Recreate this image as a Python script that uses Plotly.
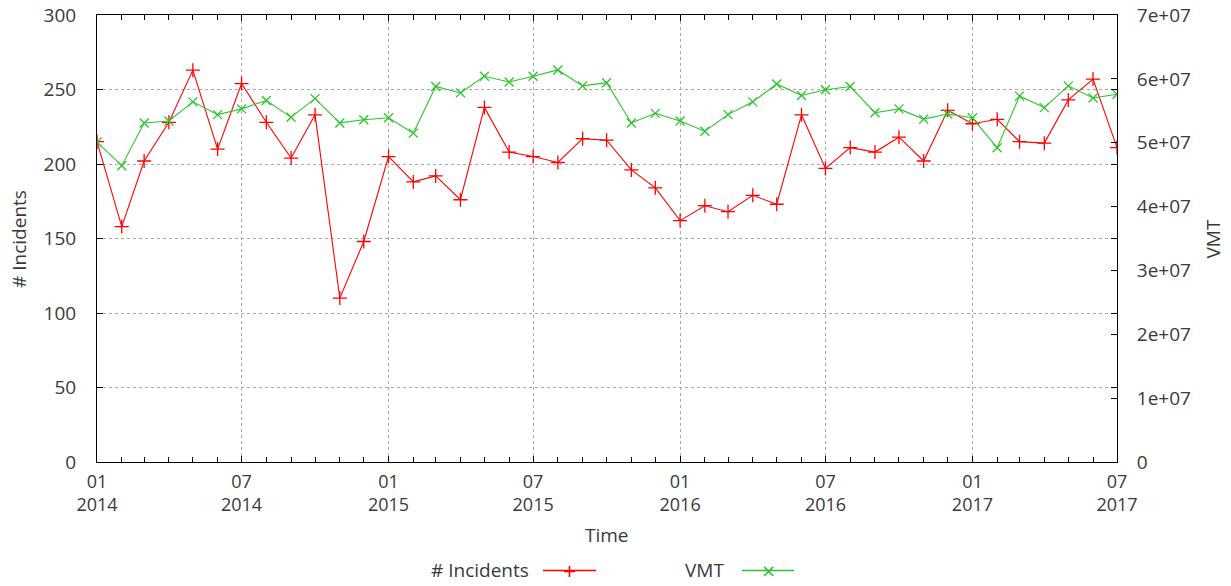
import plotly.graph_objects as go

# Monthly observations, Jan 2014 - Jul 2017
months = [
    "2014-01-01", "2014-02-01", "2014-03-01", "2014-04-01", "2014-05-01", "2014-06-01",
    "2014-07-01", "2014-08-01", "2014-09-01", "2014-10-01", "2014-11-01", "2014-12-01",
    "2015-01-01", "2015-02-01", "2015-03-01", "2015-04-01", "2015-05-01", "2015-06-01",
    "2015-07-01", "2015-08-01", "2015-09-01", "2015-10-01", "2015-11-01", "2015-12-01",
    "2016-01-01", "2016-02-01", "2016-03-01", "2016-04-01", "2016-05-01", "2016-06-01",
    "2016-07-01", "2016-08-01", "2016-09-01", "2016-10-01", "2016-11-01", "2016-12-01",
    "2017-01-01", "2017-02-01", "2017-03-01", "2017-04-01", "2017-05-01", "2017-06-01",
    "2017-07-01",
]

incidents = [
    215, 158, 202, 228, 263, 210, 254, 228, 204, 233, 110, 148,
    205, 188, 192, 176, 238, 208, 205, 201, 217, 216, 196, 184,
    162, 172, 168, 179, 173, 233, 197, 211, 208, 218, 202, 236,
    227, 230, 215, 214, 243, 257, 211,
]

vmt = [
    5.01e7, 4.64e7, 5.31e7, 5.34e7, 5.64e7, 5.44e7, 5.53e7, 5.66e7, 5.40e7, 5.69e7, 5.31e7, 5.36e7,
    5.39e7, 5.15e7, 5.88e7, 5.78e7, 6.04e7, 5.95e7, 6.04e7, 6.14e7, 5.89e7, 5.94e7, 5.31e7, 5.46e7,
    5.34e7, 5.18e7, 5.44e7, 5.64e7, 5.92e7, 5.74e7, 5.83e7, 5.88e7, 5.47e7, 5.53e7, 5.37e7, 5.45e7,
    5.39e7, 4.92e7, 5.73e7, 5.55e7, 5.89e7, 5.70e7, 5.76e7,
]

y1_ticks = [0, 50, 100, 150, 200, 250, 300]
y2_ticks = [0, 1e7, 2e7, 3e7, 4e7, 5e7, 6e7, 7e7]
y2_labels = ["0", "1e+07", "2e+07", "3e+07", "4e+07", "5e+07", "6e+07", "7e+07"]

X_RANGE = ["2014-01-01", "2017-07-01"]

RED = "#ff0000"
GREEN = "#2cc42c"
TEXT = "#3a3a3a"
FONT = "Open Sans"
FS = 19
GRID = "#a8a8a8"

fig = go.Figure()

fig.add_trace(go.Scatter(
    x=months, y=incidents, name="# Incidents", mode="lines+markers",
    line=dict(color=RED, width=1.1),
    marker=dict(symbol="cross-thin", size=10, line=dict(color=RED, width=1.3)),
    yaxis="y", showlegend=False, hoverinfo="skip",
))
fig.add_trace(go.Scatter(
    x=months, y=vmt, name="VMT", mode="lines+markers",
    line=dict(color=GREEN, width=1.1),
    marker=dict(symbol="x-thin", size=9, line=dict(color=GREEN, width=1.3)),
    yaxis="y2", showlegend=False, hoverinfo="skip",
))

axis_common = dict(
    showline=True, linecolor="black", linewidth=1,
    ticks="inside", tickcolor="black", tickwidth=1,
    tickfont=dict(family=FONT, size=FS, color=TEXT),
    zeroline=False, automargin=False,
)

fig.update_layout(
    width=1231, height=586,
    margin=dict(l=97, r=114, t=15, b=124, autoexpand=False),
    paper_bgcolor="white", plot_bgcolor="white",
    font=dict(family=FONT, size=FS, color=TEXT),
    xaxis=dict(
        **{**axis_common, "tickfont": dict(family=FONT, size=18, color=TEXT)},
        type="date", range=X_RANGE,
        tick0="2014-01-01", dtick="M6", tickformat="%m<br>%Y",
        ticklen=6, mirror="ticks",
        showgrid=True, gridcolor=GRID, griddash="dot", gridwidth=1,
        minor=dict(dtick="M1", ticks="inside", ticklen=5, tickcolor="black", showgrid=False),
        ticklabelstandoff=3,
    ),
    yaxis=dict(
        **axis_common,
        range=[0, 300], tickvals=y1_ticks, ticklen=6, mirror="ticks",
        showgrid=True, gridcolor=GRID, griddash="dot", gridwidth=1,
        ticklabelstandoff=16,
    ),
    yaxis2=dict(
        **axis_common,
        overlaying="y", side="right",
        range=[0, 7e7], tickvals=y2_ticks, ticktext=y2_labels, ticklen=6,
        showgrid=False, ticklabelstandoff=15,
    ),
)

# Axis titles
fig.add_annotation(text="# Incidents", xref="paper", yref="paper", x=-0.077, y=0.5,
                   textangle=-90, showarrow=False, xanchor="center", yanchor="middle",
                   font=dict(family=FONT, size=FS, color=TEXT))
fig.add_annotation(text="VMT", xref="paper", yref="paper", x=1.0941, y=0.5,
                   textangle=-90, showarrow=False, xanchor="center", yanchor="middle",
                   font=dict(family=FONT, size=FS, color=TEXT))
fig.add_annotation(text="Time", xref="paper", yref="paper", x=0.5, y=-0.163,
                   showarrow=False, xanchor="center", yanchor="middle",
                   font=dict(family=FONT, size=FS, color=TEXT))

# Key below the plot: label followed by a line sample with its point symbol
def key_entry(label, text_right_px, line_x0, line_x1, color, glyph):
    px = lambda v: (v - 97) / 1020.0
    yk = -0.2425
    fig.add_annotation(text=label, xref="paper", yref="paper", x=px(text_right_px), y=yk,
                       showarrow=False, xanchor="right", yanchor="middle",
                       font=dict(family=FONT, size=FS, color=TEXT))
    fig.add_shape(type="line", xref="paper", yref="paper",
                  x0=px(line_x0), x1=px(line_x1), y0=yk, y1=yk,
                  line=dict(color=color, width=1.5))
    fig.add_annotation(text=glyph, xref="paper", yref="paper", x=px((line_x0 + line_x1) / 2), y=yk,
                       showarrow=False, xanchor="center", yanchor="middle",
                       font=dict(family="DejaVu Sans", size=18, color=color))

key_entry("# Incidents", 531, 543, 596, RED, "+")
key_entry("VMT", 726, 742, 794, GREEN, "×")

fig.write_html("out.html")
